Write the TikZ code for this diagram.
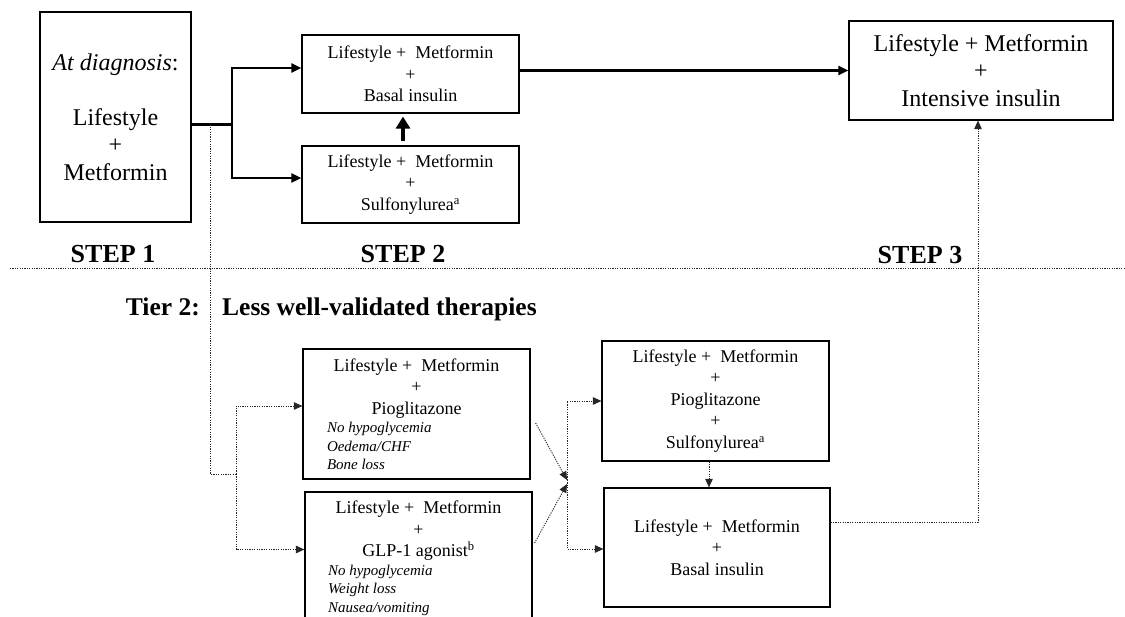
\documentclass[tikz,border=0pt]{standalone}
\usepackage{fontspec}
\setmainfont{Liberation Serif}
\usetikzlibrary{arrows.meta}
\begin{document}
\begin{tikzpicture}[x=1pt,y=-1pt,
  box/.style={draw, line width=1.2pt, inner sep=0pt, align=center,
    font=\fontsize{18}{21.5}\selectfont},
  bigbox/.style={box, font=\fontsize{24}{27.5}\selectfont},
  thickline/.style={line width=2.8pt},
  thickarrow/.style={line width=2.8pt, -{Triangle[length=10pt,width=9pt]}},
  dotline/.style={line width=0.9pt, dash pattern=on 1.2pt off 1.2pt, black!85},
  dotarrow/.style={dotline, -{Triangle[length=8.5pt,width=7.5pt]}},
  steplabel/.style={font=\bfseries\fontsize{26}{30}\selectfont, inner sep=0pt},
  tierlabel/.style={font=\bfseries\fontsize{25.5}{30}\selectfont, inner sep=0pt}
]
\useasboundingbox (0,0) rectangle (1125,617);
\clip (0,0) rectangle (1125,617);

% ---- Step boxes
\node[bigbox, minimum width=151pt, minimum height=210pt] (A) at (115.5,117)
  {\textit{At diagnosis}:\\[27.5pt]Lifestyle\\+\\Metformin};
\node[box, minimum width=217pt, minimum height=78pt] (B) at (410.5,74)
  {Lifestyle + \ Metformin\\+\\Basal insulin};
\node[box, minimum width=217pt, minimum height=77pt] (C) at (410.5,184.5)
  {Lifestyle + \ Metformin\\+\\Sulfonylurea\textsuperscript{a}};
\node[bigbox, minimum width=264pt, minimum height=99pt] (D) at (981,70.5)
  {Lifestyle + Metformin\\+\\Intensive insulin};

% ---- Tier 2 boxes
\node[box, minimum width=227pt, minimum height=130pt] (G) at (416.5,414)
  {\parbox{227pt}{\centering Lifestyle + \ Metformin\\+\\Pioglitazone\par
   \raggedright\leftskip=24pt\itshape\fontsize{15}{18.5}\selectfont
    No hypoglycemia\\Oedema/CHF\\Bone loss\par}};
\node[box, minimum width=227pt, minimum height=133pt] (H) at (418.5,558.5)
  {\parbox{227pt}{\centering Lifestyle + \ Metformin\\+\\GLP-1 agonist\textsuperscript{b}\par
   \raggedright\leftskip=23pt\itshape\fontsize{15}{18.5}\selectfont
    No hypoglycemia\\Weight loss\\Nausea/vomiting\par}};
\node[box, minimum width=227pt, minimum height=120pt] (E) at (715.5,401)
  {Lifestyle + \ Metformin\\+\\Pioglitazone\\+\\Sulfonylurea\textsuperscript{a}};
\node[box, minimum width=226pt, minimum height=119pt] (F) at (717,547.5)
  {Lifestyle + \ Metformin\\+\\Basal insulin};

% ---- Labels
\node[steplabel, anchor=base] (s1) at (113,263) {STEP 1};
\node[steplabel, anchor=base] (s2) at (403,263) {STEP 2};
\node[steplabel, anchor=base] (s3) at (920,264) {STEP 3};
\node[tierlabel, anchor=base east] (tier) at (200,316) {Tier 2:};
\node[tierlabel, anchor=base west] (tiertitle) at (222,316) {Less well-validated therapies};

% ---- separator
\coordinate (sepL) at (10,268);
\coordinate (sepR) at (1125,268);
\draw[dotline, line width=0.8pt] (sepL) -- (sepR);

% ---- Step connectors
\coordinate (j1) at (232,124.5);
\draw[thickline] ([yshift=-7.5pt]A.east) -- (j1);
\draw[thickarrow] (j1) |- ([yshift=6pt]B.west);
\draw[thickarrow] (j1) |- ([yshift=6.5pt]C.west);
\draw[line width=4.8pt, -{Triangle[length=12pt,width=14pt]}, shorten <=4pt, shorten >=3pt]
  ([xshift=-7.5pt]C.north) -- ([xshift=-7.5pt]B.south);
\draw[thickarrow] (B.east |- D.west) -- (D.west);

% ---- Tier 2 connectors
\coordinate (t0) at (210,124.5);
\coordinate (t1) at (210,474);
\coordinate (t2) at (236,474);
\draw[dotline] (t0) -- (t1) -- (t2);
\draw[dotarrow] (t2) |- ([yshift=8pt]G.west);
\draw[dotarrow] (t2) |- ([yshift=9pt]H.west);

\coordinate (m) at (567,480);
\draw[dotarrow] ([yshift=-9pt]G.east) ++(5,0) -- (m);
\draw[dotarrow] ([yshift=15.5pt]H.east) ++(2,0) -- ([yshift=-4pt]m);
\draw[dotarrow] (m) |- (E.west);
\draw[dotarrow] (m) |- ([yshift=-1.5pt]F.west);
\draw[dotarrow] ([xshift=-6.5pt]E.south) -- ([xshift=-6.5pt]E.south |- F.north);
\draw[dotarrow] ([yshift=25.5pt]F.east) -| ([xshift=-3pt]D.south);
\end{tikzpicture}
\end{document}
